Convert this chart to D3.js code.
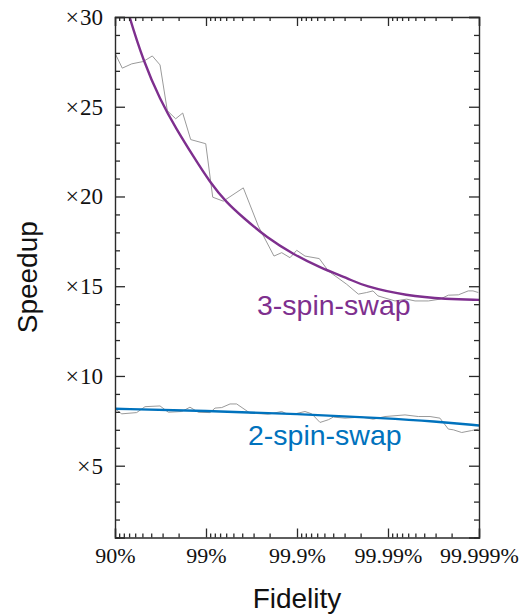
<!DOCTYPE html>
<html>
<head>
<meta charset="utf-8">
<script src="https://cdn.jsdelivr.net/npm/d3@7"></script>
<style>
  html, body { margin: 0; padding: 0; background: #fff; }
  svg { display: block; }
</style>
</head>
<body>
<svg id="chart" width="521" height="616"></svg>
<script>
// ---- data (x = number of nines of fidelity: 1 -> 90%, 5 -> 99.999%) ----
const xTickValues = [1, 2, 3, 4, 5];
const xTickLabels = ["90%", "99%", "99.9%", "99.99%", "99.999%"];
const yTickValues = [5, 10, 15, 20, 25, 30];
const yTickLabels = ["\u00d75", "\u00d710", "\u00d715", "\u00d720", "\u00d725", "\u00d730"];

const seriesNames = ["3-spin-swap", "2-spin-swap"];

// 3-spin-swap fitted (smooth) curve
const threeFitN = [1.0, 1.157, 1.311, 1.495, 1.678, 1.86, 2.044, 2.227, 2.41, 2.667, 2.959, 3.253, 3.582, 3.728, 4.205, 4.645, 5.0];
const threeFitV = [32.8, 30.0, 27.56, 25.39, 23.72, 22.24, 20.78, 19.65, 18.82, 17.71, 16.78, 16.04, 15.39, 15.02, 14.46, 14.28, 14.24];

// 3-spin-swap raw (gray) data
const threeRawN = [1.0, 1.08, 1.184, 1.311, 1.41, 1.495, 1.575, 1.667, 1.744, 1.832, 1.997, 2.074, 2.19, 2.41, 2.575, 2.747, 2.832, 2.923, 2.997, 3.088, 3.245, 3.344, 3.546, 3.674, 3.766, 3.835, 3.89, 4.077, 4.205, 4.297, 4.443, 4.571, 4.663, 4.773, 4.882, 4.934, 4.992];
const threeRawV = [27.98, 27.15, 27.39, 27.52, 27.83, 27.33, 24.78, 24.33, 24.65, 23.17, 22.94, 19.96, 19.74, 20.48, 18.35, 16.68, 16.87, 16.59, 17.0, 16.68, 16.54, 15.85, 15.11, 14.56, 14.65, 14.74, 14.46, 14.18, 14.28, 14.18, 14.18, 14.28, 14.5, 14.52, 14.74, 14.74, 14.65];

// 2-spin-swap fitted curve
const twoFitN = [1.0, 2.0, 3.0, 4.0, 4.5, 5.0];
const twoFitV = [8.17, 8.06, 7.89, 7.64, 7.47, 7.24];

// 2-spin-swap raw (gray) data
const twoRawN = [1.0, 1.074, 1.238, 1.33, 1.495, 1.586, 1.733, 1.824, 1.915, 2.044, 2.099, 2.173, 2.264, 2.337, 2.484, 2.685, 2.832, 2.887, 2.978, 3.088, 3.162, 3.253, 3.344, 3.399, 3.527, 3.711, 3.838, 3.967, 4.187, 4.333, 4.462, 4.571, 4.663, 4.718, 4.81, 4.92, 4.992];
const twoRawV = [8.17, 7.89, 7.96, 8.29, 8.33, 7.98, 8.02, 8.26, 7.98, 7.96, 8.21, 8.24, 8.44, 8.44, 7.93, 7.87, 8.02, 7.89, 7.89, 8.02, 7.89, 7.41, 7.56, 7.71, 7.65, 7.71, 7.59, 7.74, 7.83, 7.74, 7.74, 7.65, 7.04, 7.0, 6.85, 6.96, 7.04];

// ---- layout ----
const L = 115, R = 479, T = 17, B = 537.5;
const purple = "#7E2F8E", blue = "#0072BD", gray = "#9a9a9a", axisColor = "#2a2a2a";
const serif = "'Liberation Serif', 'DejaVu Serif', serif";
const sans = "'Liberation Sans', Arial, Helvetica, sans-serif";

const svg = d3.select("#chart");
const x = d3.scaleLinear().domain([1, 5]).range([L, R]);
const y = d3.scaleLinear().domain([1, 30]).range([B, T]);

// minor tick positions (log spacing within each decade)
const xMinor = [];
for (let k = 1; k < 5; k++) for (let m = 2; m <= 9; m++) xMinor.push(k + 1 - Math.log10(m));
const yMinor = d3.range(1, 31).filter(v => v % 5 !== 0);

svg.append("defs").append("clipPath").attr("id", "clip")
  .append("rect").attr("x", L).attr("y", T).attr("width", R - L).attr("height", B - T);

const plot = svg.append("g").attr("clip-path", "url(#clip)");

function zip(ns, vs) { return ns.map((n, i) => [n, vs[i]]); }
const lineRaw = d3.line().x(d => x(d[0])).y(d => y(d[1]));
const lineFit = d3.line().x(d => x(d[0])).y(d => y(d[1])).curve(d3.curveBasis);

plot.append("path").datum(zip(threeRawN, threeRawV)).attr("d", lineRaw)
  .attr("fill", "none").attr("stroke", gray).attr("stroke-width", 1);
plot.append("path").datum(zip(twoRawN, twoRawV)).attr("d", lineRaw)
  .attr("fill", "none").attr("stroke", gray).attr("stroke-width", 1);
plot.append("path").datum(zip(threeFitN, threeFitV)).attr("d", lineFit)
  .attr("fill", "none").attr("stroke", purple).attr("stroke-width", 2.4);
plot.append("path").datum(zip(twoFitN, twoFitV)).attr("d", lineFit)
  .attr("fill", "none").attr("stroke", blue).attr("stroke-width", 2.4);

// ---- axes ----
function styleAxis(g) {
  g.select(".domain").attr("stroke", axisColor).attr("stroke-width", 1.4);
  g.selectAll(".tick line").attr("stroke", axisColor).attr("stroke-width", 1.3);
}

// bottom
const gB = svg.append("g").attr("transform", `translate(0,${B})`)
  .call(d3.axisBottom(x).tickValues(xTickValues).tickSize(-9).tickPadding(10)
    .tickFormat((d, i) => xTickLabels[i]));
gB.call(styleAxis);
gB.attr("font-family", serif);
gB.selectAll("text").attr("font-family", serif).attr("font-size", 22).attr("fill", "#111");
svg.append("g").attr("transform", `translate(0,${B})`)
  .call(d3.axisBottom(x).tickValues(xMinor).tickSize(-4).tickFormat(""))
  .call(styleAxis).select(".domain").remove();

// top
svg.append("g").attr("transform", `translate(0,${T})`)
  .call(d3.axisTop(x).tickValues(xTickValues).tickSize(-9).tickFormat(""))
  .call(styleAxis);
svg.append("g").attr("transform", `translate(0,${T})`)
  .call(d3.axisTop(x).tickValues(xMinor).tickSize(-4).tickFormat(""))
  .call(styleAxis).select(".domain").remove();

// left
const gL = svg.append("g").attr("transform", `translate(${L},0)`)
  .call(d3.axisLeft(y).tickValues(yTickValues).tickSize(-10).tickPadding(12)
    .tickFormat((d, i) => yTickLabels[i]));
gL.call(styleAxis);
gL.attr("font-family", serif);
gL.selectAll("text").attr("font-family", serif).attr("font-size", 23).attr("fill", "#111")
  .each(function () {
    const t = d3.select(this);
    const s = t.text();
    t.text(null);
    t.append("tspan").attr("font-size", 24).text(s.charAt(0));
    t.append("tspan").attr("dx", 1).text(s.slice(1));
  });
svg.append("g").attr("transform", `translate(${L},0)`)
  .call(d3.axisLeft(y).tickValues(yMinor).tickSize(-5).tickFormat(""))
  .call(styleAxis).select(".domain").remove();

// right
svg.append("g").attr("transform", `translate(${R},0)`)
  .call(d3.axisRight(y).tickValues(yTickValues).tickSize(-10).tickFormat(""))
  .call(styleAxis);
svg.append("g").attr("transform", `translate(${R},0)`)
  .call(d3.axisRight(y).tickValues(yMinor).tickSize(-5).tickFormat(""))
  .call(styleAxis).select(".domain").remove();

// ---- series labels ----
svg.append("text").attr("x", 257).attr("y", 315).text(seriesNames[0])
  .attr("font-family", sans).attr("font-size", 28.5).attr("fill", purple);
svg.append("text").attr("x", 248).attr("y", 445).text(seriesNames[1])
  .attr("font-family", sans).attr("font-size", 28.5).attr("fill", blue);

// ---- axis titles ----
svg.append("text").attr("x", (L + R) / 2).attr("y", 608).attr("text-anchor", "middle")
  .attr("font-family", sans).attr("font-size", 28).attr("fill", "#111").text("Fidelity");
svg.append("text").attr("transform", `translate(37,${(T + B) / 2}) rotate(-90)`)
  .attr("text-anchor", "middle")
  .attr("font-family", sans).attr("font-size", 28).attr("fill", "#111").text("Speedup");
</script>
</body>
</html>
